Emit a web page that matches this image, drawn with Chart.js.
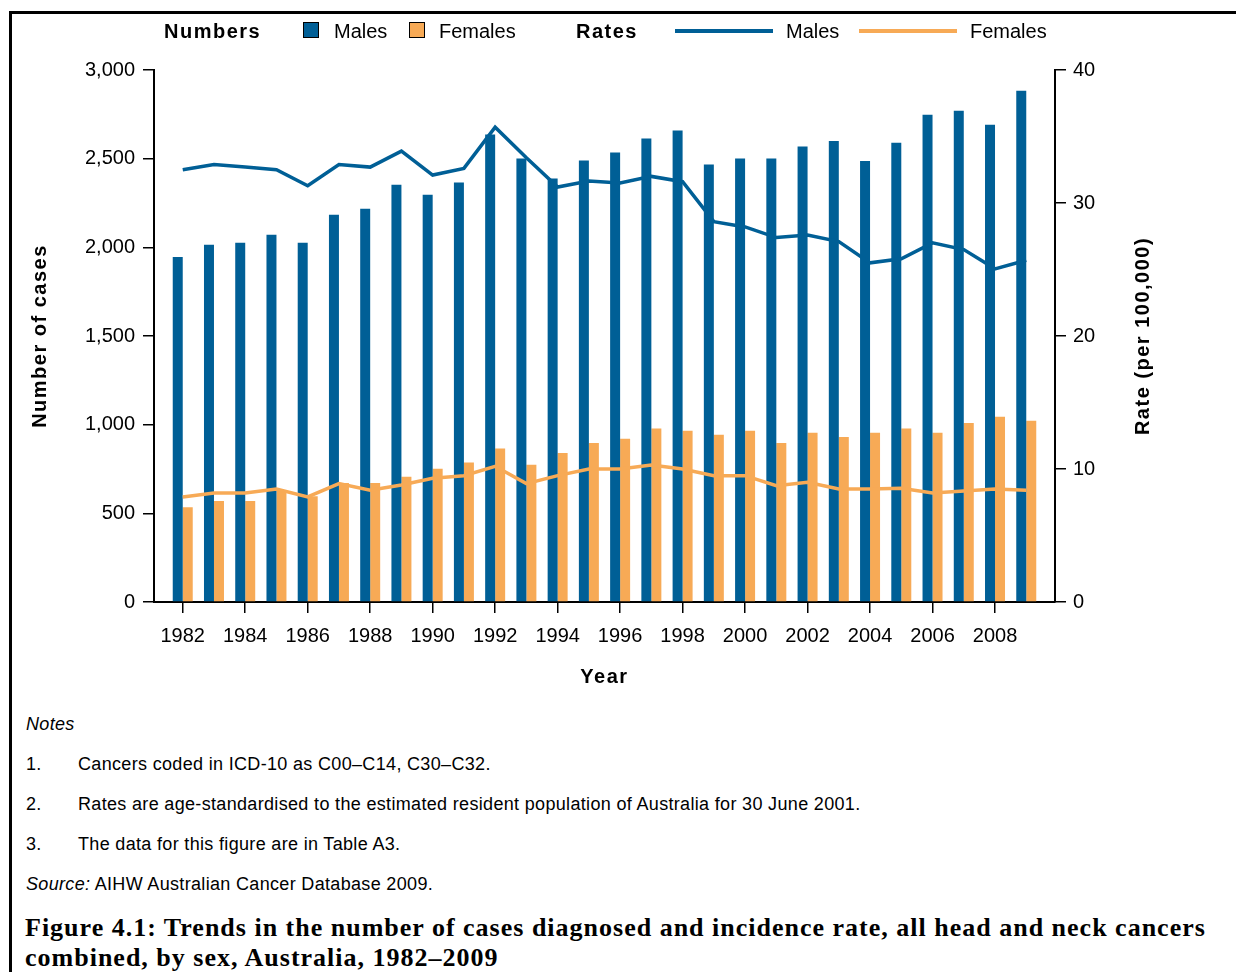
<!DOCTYPE html>
<html>
<head>
<meta charset="utf-8">
<script src="https://cdn.jsdelivr.net/npm/chart.js@4.4.1/dist/chart.umd.min.js"></script>
<style>
  body { margin: 0; background: #fff; width: 1236px; height: 972px; overflow: hidden; position: relative; font-family: "Liberation Sans", Arial, sans-serif; color: #000; }
  .frame { position: absolute; left: 9px; top: 11px; right: 0; height: 980px; border-top: 3px solid #000; border-left: 3px solid #000; }
  #myChart { position: absolute; left: 12px; top: 14px; }
  .lg { position: absolute; font-size: 20px; line-height: 20px; top: 21px; white-space: nowrap; }
  .lg.b { font-weight: bold; letter-spacing: 1.5px; }
  .box { position: absolute; top: 22px; width: 14px; height: 14px; border: 1.5px solid #000; }
  .ln { position: absolute; top: 29px; height: 4px; width: 98px; }
  .note { position: absolute; font-size: 18px; letter-spacing: 0.33px; line-height: 20px; white-space: nowrap; }
  .cap { position: absolute; left: 25px; font-family: "Liberation Serif", serif; font-weight: bold; font-size: 26px; letter-spacing: 1.0px; line-height: 30px; white-space: nowrap; }
</style>
</head>
<body>
<div class="frame"></div>
<canvas id="myChart" width="1224" height="686"></canvas>

<span class="lg b" style="left:164px">Numbers</span>
<div class="box" style="left:303px;background:#005f96"></div>
<span class="lg" style="left:334px">Males</span>
<div class="box" style="left:409px;background:#f7aa56"></div>
<span class="lg" style="left:439px">Females</span>
<span class="lg b" style="left:576px">Rates</span>
<div class="ln" style="left:675px;background:#005f96"></div>
<span class="lg" style="left:786px">Males</span>
<div class="ln" style="left:859px;background:#f7aa56"></div>
<span class="lg" style="left:970px">Females</span>

<div class="note" style="left:26px;top:714px"><i>Notes</i></div>
<div class="note" style="left:26px;top:754px">1.</div>
<div class="note" style="left:78px;top:754px">Cancers coded in ICD-10 as C00–C14, C30–C32.</div>
<div class="note" style="left:26px;top:794px">2.</div>
<div class="note" style="left:78px;top:794px">Rates are age-standardised to the estimated resident population of Australia for 30 June 2001.</div>
<div class="note" style="left:26px;top:834px">3.</div>
<div class="note" style="left:78px;top:834px">The data for this figure are in Table A3.</div>
<div class="note" style="left:26px;top:874px"><i>Source:</i> AIHW Australian Cancer Database 2009.</div>

<div class="cap" style="top:913px">Figure 4.1: Trends in the number of cases diagnosed and incidence rate, all head and neck cancers</div>
<div class="cap" style="top:943px">combined, by sex, Australia, 1982–2009</div>

<script>
const years = [1982, 1983, 1984, 1985, 1986, 1987, 1988, 1989, 1990, 1991,
  1992, 1993, 1994, 1995, 1996, 1997, 1998, 1999, 2000, 2001,
  2002, 2003, 2004, 2005, 2006, 2007, 2008, 2009]
const maleCases = [1945, 2014, 2026, 2071, 2026, 2184, 2218, 2353, 2297, 2366,
  2636, 2501, 2388, 2489, 2535, 2614, 2659, 2467, 2501, 2501,
  2568, 2600, 2487, 2590, 2747, 2770, 2691, 2883]
const femaleCases = [535, 570, 570, 626, 596, 671, 671, 707, 751, 786,
  865, 774, 840, 897, 921, 978, 966, 943, 966, 897,
  954, 931, 954, 978, 954, 1010, 1044, 1022]
const maleRates = [32.5, 32.9, 32.7, 32.5, 31.3, 32.9, 32.7, 33.9, 32.1, 32.6,
  35.7, 33.4, 31.2, 31.65, 31.5, 32.0, 31.6, 28.6, 28.2, 27.4,
  27.6, 27.1, 25.5, 25.8, 27.0, 26.5, 25.05, 25.7]
const femaleRates = [7.9, 8.2, 8.2, 8.5, 7.9, 8.9, 8.4, 8.8, 9.3, 9.5,
  10.2, 8.9, 9.5, 10.0, 10.0, 10.3, 10.0, 9.5, 9.5, 8.75,
  9.0, 8.5, 8.5, 8.55, 8.2, 8.35, 8.5, 8.4]
const tickYears = [1982, 1984, 1986, 1988, 1990, 1992, 1994, 1996, 1998, 2000, 2002, 2004, 2006, 2008]

const blue = '#005f96'
const orange = '#f7aa56'

const pairs = (vals) => years.map((yr, i) => ({ x: yr, y: vals[i] }))

// axis titles drawn by hand so the right one reads bottom-to-top
const axisTitles = {
  id: 'axisTitles',
  afterDraw(chart) {
    const ctx = chart.ctx
    const a = chart.chartArea
    const mid = (a.top + a.bottom) / 2
    ctx.save()
    ctx.font = 'bold 20px "Liberation Sans", Arial, sans-serif'
    ctx.letterSpacing = '1.5px'
    ctx.fillStyle = '#000'
    ctx.textAlign = 'center'
    ctx.textBaseline = 'middle'
    ctx.fillText('Year', (a.left + a.right) / 2, 663)
    ctx.translate(28, mid)
    ctx.rotate(-Math.PI / 2)
    ctx.fillText('Number of cases', 0, 0)
    ctx.restore()
    ctx.save()
    ctx.font = 'bold 20px "Liberation Sans", Arial, sans-serif'
    ctx.letterSpacing = '1.5px'
    ctx.fillStyle = '#000'
    ctx.textAlign = 'center'
    ctx.textBaseline = 'middle'
    ctx.translate(1131, mid)
    ctx.rotate(-Math.PI / 2)
    ctx.fillText('Rate (per 100,000)', 0, 0)
    ctx.restore()
  }
}

const tickFont = { family: '"Liberation Sans", Arial, sans-serif', size: 20 }

const ctx = document.getElementById('myChart').getContext('2d')
const myChart = new Chart(ctx, {
  type: 'bar',
  data: {
    datasets: [
      { type: 'line', label: 'Males rate', data: pairs(maleRates), yAxisID: 'y2', borderColor: blue, borderWidth: 3.5, pointRadius: 0, tension: 0, order: 0 },
      { type: 'line', label: 'Females rate', data: pairs(femaleRates), yAxisID: 'y2', borderColor: orange, borderWidth: 3.5, pointRadius: 0, tension: 0, order: 0 },
      { label: 'Males', data: pairs(maleCases), yAxisID: 'y', backgroundColor: blue, categoryPercentage: 0.64, barPercentage: 1.0, order: 1 },
      { label: 'Females', data: pairs(femaleCases), yAxisID: 'y', backgroundColor: orange, categoryPercentage: 0.64, barPercentage: 1.0, order: 1 }
    ]
  },
  options: {
    responsive: false,
    animation: false,
    devicePixelRatio: 1,
    layout: { padding: { top: 56, left: 0, right: 0, bottom: 0 } },
    plugins: { legend: { display: false }, tooltip: { enabled: false } },
    scales: {
      x: {
        type: 'linear',
        min: 1981.08,
        max: 2009.92,
        offset: false,
        grid: { drawOnChartArea: false, drawTicks: true, tickLength: 11, color: '#000', lineWidth: 1.5, offset: false },
        border: { color: '#000', width: 2 },
        afterBuildTicks: (scale) => { scale.ticks = tickYears.map(v => ({ value: v })) },
        afterFit: (scale) => { scale.height = 98 },
        ticks: { color: '#000', font: tickFont, padding: 11, maxRotation: 0, autoSkip: false, callback: (v) => String(v) }
      },
      y: {
        position: 'left',
        min: 0,
        max: 3000,
        grid: { drawOnChartArea: false, drawTicks: true, tickLength: 11, color: '#000', lineWidth: 1.5 },
        border: { color: '#000', width: 2 },
        afterFit: (scale) => { scale.width = 142 },
        ticks: { stepSize: 500, color: '#000', font: tickFont, padding: 8 }
      },
      y2: {
        position: 'right',
        min: 0,
        max: 40,
        grid: { drawOnChartArea: false, drawTicks: true, tickLength: 11, color: '#000', lineWidth: 1.5 },
        border: { color: '#000', width: 2 },
        afterFit: (scale) => { scale.width = 181 },
        ticks: { stepSize: 10, color: '#000', font: tickFont, padding: 7 }
      }
    }
  },
  plugins: [axisTitles]
})
</script>
</body>
</html>
